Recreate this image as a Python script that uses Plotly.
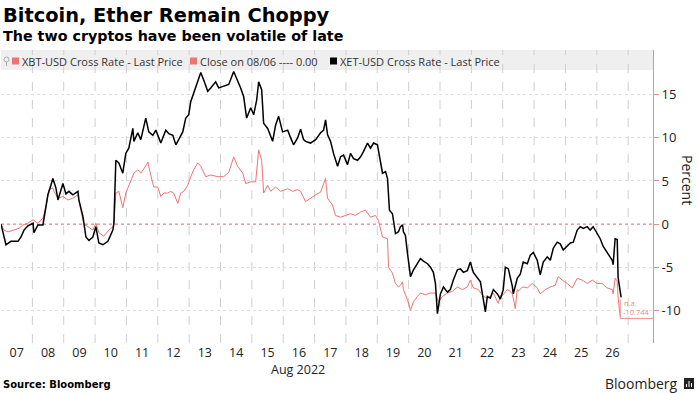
import plotly.graph_objects as go
import pandas as pd

# ---------------- data (percent change vs close on 08/06) ----------------
start = pd.Timestamp("2022-08-07 00:00")

eth_hours = [0, 2.3, 3.8, 7.6, 13, 15.3, 17.6, 20.6, 24.5, 25.2, 28.3, 32.1, 34.4, 35.9, 38.2, 39.7,
             42, 43.6, 47.4, 49.7, 52, 55, 58.9, 59.6, 62.7, 65, 67.3, 70.3, 72.6, 74.9, 78, 81.8,
             85.6, 86.4, 87.9, 90.2, 93.2, 95.5, 97.8, 100.9, 101.7, 104.7, 107, 110.8, 113.1, 116.2,
             118.5, 120.8, 122.3, 126.1, 128.4, 131.5, 133.8, 136, 139.1, 141.4, 143.7, 145.2, 147.5,
             150.6, 152.9, 155.2, 158.2, 160.5, 164.3, 166.6, 170.4, 174.3, 178.1, 181.1, 183.4, 185.7,
             188, 191.1, 193.4, 195.7, 197.2, 199.5, 201, 204.1, 206.4, 207.9, 210.2, 212.5, 215.5,
             219.4, 221.7, 223.9, 227, 229.3, 231.6, 233.1, 236.9, 240.8, 244.6, 246.9, 248.4, 249.9,
             252.2, 254.5, 257.6, 259.9, 262.2, 265.2, 267.5, 269.8, 272.9, 275.2, 277.4, 280.5, 282.8,
             285.1, 288.1, 290.4, 292, 294.3, 295.8, 297.3, 299.6, 301.9, 304.2, 305.7, 307.3, 308,
             309.5, 311.1, 313.4, 315.7, 318.7, 321, 323.3, 326.4, 328.7, 330.9, 332.5, 334, 336.3,
             338.6, 341.7, 343.9, 346.2, 349.3, 351.6, 353.9, 356.9, 359.2, 361.5, 364.6, 366.9, 369.2,
             370.7, 372.2, 374.5, 376.8, 379.9, 382.2, 384.4, 386, 388.3, 391.3, 392.1, 395.1, 397.4,
             399.7, 402.8, 405.1, 407.4, 410.4, 412.7, 415, 418.1, 420.4, 422.7, 425.7, 428, 430.3,
             433.4, 435.7, 438, 441, 443.3, 445.6, 448.7, 450.9, 453.2, 456.3, 458.6, 460.9, 463.9,
             466.2, 467.8, 468.5, 470, 471.6, 472.3, 474.6]
eth_pct = [0.0, -1.5, -2.4, -2.0, -2.0, -1.5, -0.7, -0.2, 0.1, -1.0, -0.1, -0.1, 2.0, 3.4, 4.5, 5.3,
           4.2, 2.8, 4.7, 3.5, 3.8, 3.4, 3.8, 2.8, 0.9, -1.5, -1.9, -1.5, -0.3, -2.2, -2.4, -2.0,
           -0.7, 0.1, 7.4, 7.1, 5.9, 8.2, 8.8, 11.1, 9.6, 10.6, 9.8, 12.3, 10.7, 10.3,
           10.9, 10.1, 9.4, 10.9, 10.5, 10.3, 9.2, 9.8, 10.7, 12.3, 12.7, 14.2, 15.2,
           16.4, 17.6, 16.7, 15.4, 15.8, 16.5, 15.8, 16.0, 16.2, 17.7, 16.7, 15.8, 14.8,
           12.3, 13.5, 12.7, 14.4, 16.5, 15.6, 11.7, 11.1, 10.3, 9.6, 11.5, 12.5, 10.7,
           10.9, 10.0, 9.2, 10.0, 11.0, 9.8, 9.6, 9.4, 9.8, 10.6, 10.9, 12.1, 10.4,
           9.6, 8.2, 6.7, 7.8, 8.0, 6.9, 8.2, 7.6, 7.4, 7.8, 8.4, 9.4, 8.8,
           9.4, 9.2, 7.1, 5.9, 6.1, 5.3, 1.6, 1.2, -1.1, -0.9, -0.3, -0.1, -0.9,
           -1.3, -3.4, -6.1, -5.3, -4.6, -4.0, -4.3, -4.6, -5.0, -5.6, -6.9, -10.4, -8.1,
           -7.3, -7.9, -7.6, -6.5, -5.3, -5.2, -5.6, -5.4, -4.4, -5.6, -6.3, -6.7, -8.8,
           -10.2, -8.4, -8.6, -7.6, -8.1, -8.7, -7.6, -5.0, -5.2, -7.2, -8.1, -6.3, -5.8,
           -4.4, -4.6, -3.6, -3.3, -4.2, -5.9, -4.4, -3.8, -4.2, -2.8, -2.1, -2.3, -3.0,
           -2.6, -2.2, -2.1, -0.7, -0.3, -0.5, -0.3, -0.7, -0.3, -1.1, -1.7, -2.6, -3.3,
           -3.8, -4.2, -4.7, -1.7, -1.8, -6.2, -8.5]

btc_hours = [0, 2.3, 5.4, 9.9, 13.8, 16.8, 20.6, 24.5, 28.3, 32.1, 34.4, 36.7, 39.7, 40.5, 43.6, 47.4,
             51.2, 55, 58.9, 61.1, 63.4, 66.5, 70.3, 72.6, 74.9, 78.7, 82.5, 86.4, 87.9, 90.2, 93.2,
             95.5, 99.4, 101.7, 104.7, 107, 109.3, 112.4, 114.6, 116.9, 120, 122.3, 124.6, 127.6,
             129.9, 132.2, 135.3, 137.6, 139.9, 142.9, 145.2, 147.5, 150.6, 152.9, 156.7, 160.5,
             165.9, 170.4, 174.3, 178.1, 181.1, 185, 187.3, 191.1, 194.9, 196.4, 197.2, 199.5, 201,
             204.1, 206.4, 210.2, 214, 219.4, 223.2, 227, 229.3, 233.1, 236.9, 240.8, 244.6, 248.4,
             249.9, 253.7, 256, 259.9, 263.7, 267.5, 271.3, 275.2, 279, 282.8, 286.6, 288.9, 292,
             295.8, 296.6, 299.6, 301.9, 304.2, 305.7, 307.3, 308, 309.5, 311.1, 313.4, 315.7, 318.7,
             321, 324.8, 328.7, 332.5, 334.8, 337.8, 341.7, 345.5, 349.3, 353.1, 356.9, 359.2, 361.5,
             365.3, 369.2, 373, 376.8, 380.6, 382.2, 383.7, 386, 387.5, 389.8, 391.3, 392.1, 393.6,
             395.1, 395.9, 399, 402.8, 406.6, 410.4, 412.7, 416.6, 420.4, 424.2, 426.5, 429.5, 433.4,
             437.2, 441, 444.8, 448.7, 452.5, 456.3, 460.1, 463.9, 467.8, 468.5, 470, 471.6, 472.3,
             473.9]
btc_pct = [0.0, -0.7, -0.9, -0.7, -0.5, -0.1, 0.1, 0.5, 0.1, 0.7, 2.0, 4.0, 4.2, 3.8, 3.0, 3.2,
           2.8, 3.0, 3.4, 1.6, 0.0, -0.3, -0.7, 0.1, -1.0, -1.4, -0.7, -0.2, 3.6, 3.8, 1.9,
           3.6, 5.1, 5.9, 6.3, 5.9, 6.4, 7.2, 5.7, 4.3, 4.3, 3.2, 3.6, 3.6,
           3.8, 3.6, 2.4, 3.6, 3.8, 4.5, 5.5, 6.3, 7.1, 6.7, 5.5, 5.7,
           5.5, 5.5, 6.0, 7.8, 6.7, 5.9, 4.7, 4.9, 4.9, 7.1, 8.6, 7.4, 3.6,
           4.5, 3.8, 4.3, 3.8, 4.1, 3.8, 4.0, 3.8, 2.6, 3.0, 3.4, 3.7, 5.3,
           3.0, 2.2, 1.0, 0.8, 1.0, 1.2, 1.0, 1.4, 1.6, 0.8, 1.0, 0.4, -1.5,
           -1.7, -5.0, -5.7, -6.9, -7.3, -7.1, -6.7, -7.6, -8.1, -8.8, -10.0, -9.0, -8.4,
           -8.0, -8.2, -8.0, -8.0, -9.0, -8.4, -8.0, -7.8, -7.3, -7.6, -7.3, -6.5, -7.4,
           -7.6, -8.4, -8.6, -8.0, -9.2, -8.3, -8.3, -7.8, -7.6, -7.8, -8.1, -8.6, -9.8,
           -7.6, -7.8, -7.3, -7.4, -6.9, -7.4, -8.1, -7.6, -7.3, -7.1, -6.1, -6.5, -6.9,
           -7.4, -6.3, -6.5, -6.9, -6.5, -6.9, -6.9, -7.4, -7.6, -8.1, -6.3, -6.6, -8.5,
           -10.744]

close_level = 0.0
day_labels = ["07", "08", "09", "10", "11", "12", "13", "14", "15", "16",
              "17", "18", "19", "20", "21", "22", "23", "24", "25", "26"]
y_ticks = [-10, -5, 0, 5, 10, 15]
btc_name = "XBT-USD Cross Rate - Last Price"
close_name = "Close on 08/06 ---- 0.00"
eth_name = "XET-USD Cross Rate - Last Price"

# ---------------- styling ----------------
RED = "#f07373"
AXRED = "#f08a8a"
WIDTH, HEIGHT = 699, 393
L, R, T, B = 1, 46, 50, 50
W = WIDTH - L - R
H = HEIGHT - T - B


def px(x):
    return (x - L) / W


def py(y):
    return (HEIGHT - B - y) / H


def to_time(hours):
    return [start + pd.Timedelta(hours=h) for h in hours]


x_end = start + pd.Timedelta(hours=499)
day_noons = [start + pd.Timedelta(days=i, hours=12) for i in range(len(day_labels))]
day_bounds = [start + pd.Timedelta(days=i) for i in range(1, len(day_labels) + 1)]

fig = go.Figure()
fig.add_trace(go.Scatter(x=[start, x_end], y=[close_level, close_level], mode="lines",
                         line=dict(color=RED, width=1, dash="dot"), name=close_name,
                         hoverinfo="skip"))
fig.add_trace(go.Scatter(x=to_time(btc_hours), y=btc_pct, mode="lines",
                         line=dict(color=RED, width=1), name=btc_name))
fig.add_trace(go.Scatter(x=to_time(eth_hours), y=eth_pct, mode="lines",
                         line=dict(color="#000000", width=1.5), name=eth_name))

shapes = []
# legend band
shapes.append(dict(type="rect", xref="paper", yref="paper", x0=0, x1=1, y0=py(70), y1=py(50),
                   fillcolor="#efefef", line=dict(width=0), layer="below"))
# vertical day gridlines
for d in day_bounds:
    shapes.append(dict(type="line", xref="x", yref="paper", x0=d, x1=d, y0=0, y1=1,
                       line=dict(color="#cfcfcf", width=1, dash="dash"), layer="below"))
# legend pin glyph
shapes.append(dict(type="circle", xref="paper", yref="paper", x0=px(4), x1=px(9),
                   y0=py(62), y1=py(57), line=dict(color="#aaaaaa", width=1)))
shapes.append(dict(type="line", xref="paper", yref="paper", x0=px(6.5), x1=px(6.5),
                   y0=py(66), y1=py(62), line=dict(color="#aaaaaa", width=1)))
# legend squares
for xs, col in [(12, RED), (190, RED), (330, "#000000")]:
    shapes.append(dict(type="rect", xref="paper", yref="paper", x0=px(xs), x1=px(xs + 7),
                       y0=py(64.5), y1=py(57.5), fillcolor=col, line=dict(width=0)))
# end-value label bracket
last_t = to_time([btc_hours[-1]])[0]
shapes.append(dict(type="line", xref="x", yref="y", x0=last_t, x1=last_t, y0=btc_pct[-1] - 0.2,
                   y1=btc_pct[-1] + 2.0, line=dict(color=AXRED, width=1)))
shapes.append(dict(type="line", xref="x", yref="y", x0=last_t, x1=x_end, y0=btc_pct[-1] - 0.2,
                   y1=btc_pct[-1] - 0.2, line=dict(color=AXRED, width=1)))
# bloomberg icon
shapes.append(dict(type="rect", xref="paper", yref="paper", x0=px(684), x1=px(694),
                   y0=py(389), y1=py(378), fillcolor="#222222", line=dict(width=0)))
for bx, btop in [(686.5, 384), (689, 381), (691.5, 383)]:
    shapes.append(dict(type="line", xref="paper", yref="paper", x0=px(bx), x1=px(bx),
                       y0=py(387), y1=py(btop), line=dict(color="white", width=1)))

ann = []
ann.append(dict(text="Bitcoin, Ether Remain Choppy", x=px(1), y=py(15), xref="paper", yref="paper",
                xanchor="left", yanchor="middle", showarrow=False,
                font=dict(family="DejaVu Sans", size=19.4, color="#000", weight="bold")))
ann.append(dict(text="The two cryptos have been volatile of late", x=px(1), y=py(36), xref="paper",
                yref="paper", xanchor="left", yanchor="middle", showarrow=False,
                font=dict(family="DejaVu Sans", size=14.3, color="#000", weight="bold")))
for xs, txt in [(19.5, btc_name), (197.5, close_name), (338, eth_name)]:
    ann.append(dict(text=txt, x=px(xs), y=py(61), xref="paper", yref="paper", xanchor="left",
                    yanchor="middle", showarrow=False,
                    font=dict(family="Open Sans", size=11, color="#333")))
ann.append(dict(text="Aug 2022", x=px(298), y=py(369), xref="paper", yref="paper", xanchor="center",
                yanchor="middle", showarrow=False,
                font=dict(family="Open Sans", size=12.5, color="#222")))
ann.append(dict(text="Source: Bloomberg", x=px(1), y=py(384), xref="paper", yref="paper",
                xanchor="left", yanchor="middle", showarrow=False,
                font=dict(family="DejaVu Sans", size=10, color="#000", weight="bold")))
ann.append(dict(text="Bloomberg", x=px(680), y=py(383), xref="paper", yref="paper",
                xanchor="right", yanchor="middle", showarrow=False,
                font=dict(family="Open Sans", size=14, color="#222")))
ann.append(dict(text="Percent", x=px(688), y=py(180), xref="paper", yref="paper", textangle=90,
                xanchor="center", yanchor="middle", showarrow=False,
                font=dict(family="Open Sans", size=14, color="#222")))
ann.append(dict(text="n.a.", x=last_t, y=btc_pct[-1] + 1.6, xref="x", yref="y", xanchor="left",
                yanchor="middle", xshift=2, showarrow=False,
                font=dict(family="Open Sans", size=7.5, color=AXRED)))
ann.append(dict(text=f"{btc_pct[-1]:.3f}", x=last_t, y=btc_pct[-1] + 0.5, xref="x", yref="y",
                xanchor="left", yanchor="middle", xshift=1, showarrow=False,
                font=dict(family="Open Sans", size=7.5, color=AXRED)))

fig.update_layout(
    width=WIDTH, height=HEIGHT,
    margin=dict(l=L, r=R, t=T, b=B),
    paper_bgcolor="white", plot_bgcolor="white",
    showlegend=False,
    shapes=shapes, annotations=ann,
    xaxis=dict(type="date", range=[start, x_end], tickvals=day_noons, ticktext=day_labels,
               showgrid=False, zeroline=False, ticks="", showline=False,
               tickfont=dict(family="Open Sans", size=12.5, color="#222")),
    yaxis=dict(side="right", range=[-13.8, 20.2], tickvals=y_ticks,
               ticktext=[str(v) for v in y_ticks], showgrid=True, gridcolor="#dedede",
               griddash="dot", zeroline=False, showline=True, linecolor=AXRED, linewidth=1,
               ticks="outside", tickcolor=AXRED, ticklen=5,
               tickfont=dict(family="Open Sans", size=13, color="#222")),
)

fig.write_html("out.html", config={"displayModeBar": False},
               post_script="document.body.style.margin='0px';document.body.style.overflow='hidden';")
